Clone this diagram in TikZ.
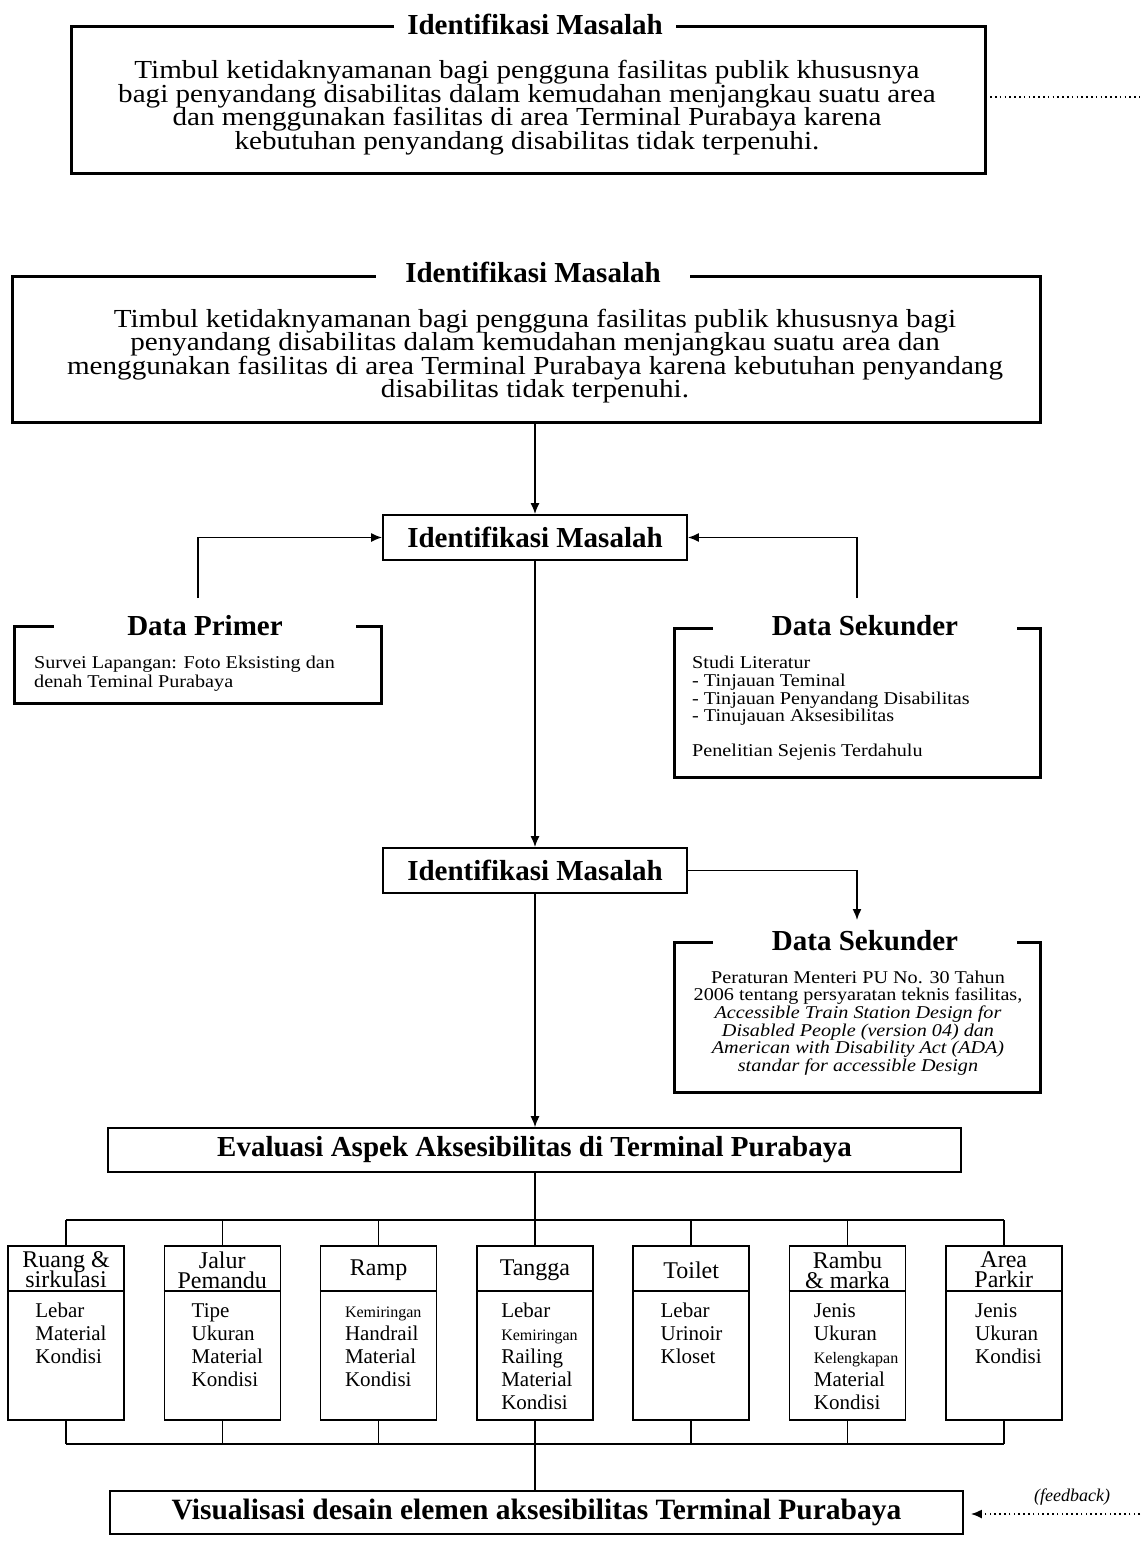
\documentclass[tikz,border=0pt]{standalone}
\usepackage{fontspec}
\setmainfont{Liberation Serif}
\newfontfamily\widefont{Liberation Serif}[FakeStretch=1.12]
\usetikzlibrary{arrows.meta}
\newcommand\firstl{\rule{0pt}{14.5pt}}
\newcommand\smallk[1]{{\fontsize{16}{16}\selectfont #1}}
\begin{document}
\lineskiplimit=-100pt
\lineskip=0pt
\begin{tikzpicture}[x=1pt,y=-1pt,
  heavy/.style={line width=3pt},
  frame/.style={inner sep=0pt, draw=none},
  conn/.style={line width=1.5pt},
  arr/.style={conn,-{Latex[length=11pt,width=9pt]}},
  dots/.style={line width=1.6pt, dash pattern=on 1.6pt off 3.2pt},
  ttl/.style={inner ysep=0pt, fill=white, font=\fontsize{29}{29}\selectfont\bfseries},
  bigbody/.style={inner sep=0pt, align=center, font=\widefont\fontsize{26}{23.5}\selectfont},
  smallbody/.style={inner sep=0pt, font=\widefont\fontsize{18}{17.6}\selectfont},
  mbox/.style={draw, line width=1.8pt, inner sep=0pt, font=\fontsize{29}{29}\selectfont\bfseries},
  sbox/.style={draw, line width=1.6pt, inner sep=0pt, minimum width=116pt, minimum height=174pt},
  hdr/.style={inner sep=0pt, align=center, font=\fontsize{24}{20}\selectfont},
  bdy/.style={inner sep=0pt, align=left, anchor=north west, font=\fontsize{21}{23}\selectfont}
]
\useasboundingbox (0,0) rectangle (1145,1544);
\fill[white] (0,0) rectangle (1145,1544);

% ---- box 1
\node[frame, minimum width=913pt, minimum height=146pt] (b1) at (528.5,100) {};
\node[ttl, inner xsep=13pt] (b1t) at (535,24) {Identifikasi Masalah};
\draw[heavy] (b1t.west |- b1.north) -- (b1.north west) -- (b1.south west) -- (b1.south east) -- (b1.north east) -- (b1t.east |- b1.north);
\node[bigbody] (b1x) at (527,107.5) {Timbul ketidaknyamanan bagi pengguna fasilitas publik khususnya\\bagi penyandang disabilitas dalam kemudahan menjangkau suatu area\\dan menggunakan fasilitas di area Terminal Purabaya karena\\kebutuhan penyandang disabilitas tidak terpenuhi.};
\coordinate (dot1) at (1140,97);
\draw[dots] ([xshift=5pt]b1.east |- dot1) -- (dot1);

% ---- box 2
\node[frame, minimum width=1027pt, minimum height=145pt] (b2) at (526.5,349.5) {};
\node[ttl, inner xsep=29.5pt] (b2t) at (533,272) {Identifikasi Masalah};
\draw[heavy] (b2t.west |- b2.north) -- (b2.north west) -- (b2.south west) -- (b2.south east) -- (b2.north east) -- (b2t.east |- b2.north);
\node[bigbody] (b2x) at (535,356) {Timbul ketidaknyamanan bagi pengguna fasilitas publik khususnya bagi\\penyandang disabilitas dalam kemudahan menjangkau suatu area dan\\menggunakan fasilitas di area Terminal Purabaya karena kebutuhan penyandang\\disabilitas tidak terpenuhi.};

% ---- identifikasi boxes
\node[mbox, minimum width=304pt, minimum height=45pt] (im1) at (535,537.5) {Identifikasi Masalah};
\node[mbox, minimum width=304pt, minimum height=45pt] (im2) at (535,870.5) {Identifikasi Masalah};

% ---- data primer
\node[frame, minimum width=366pt, minimum height=76pt] (dp) at (198,665) {};
\node[ttl, inner xsep=73.5pt] (dpt) at (205,626) {Data Primer};
\draw[heavy] (dpt.west |- dp.north) -- (dp.north west) -- (dp.south west) -- (dp.south east) -- (dp.north east) -- (dpt.east |- dp.north);
\node[smallbody, align=left, anchor=west, font=\widefont\fontsize{18}{19}\selectfont] (dpx) at (34,674) {Survei Lapangan: Foto Eksisting dan\\denah Teminal Purabaya};

% ---- data sekunder 1
\node[frame, minimum width=365pt, minimum height=148pt] (ds1) at (857.5,703) {};
\node[ttl, inner xsep=59pt] (ds1t) at (865,626) {Data Sekunder};
\draw[heavy] (ds1t.west |- ds1.north) -- (ds1.north west) -- (ds1.south west) -- (ds1.south east) -- (ds1.north east) -- (ds1t.east |- ds1.north);
\node[smallbody, align=left, anchor=west] (ds1x) at (692,708.5) {Studi Literatur\\- Tinjauan Teminal\\- Tinjauan Penyandang Disabilitas\\- Tinujauan Aksesibilitas\\[17.5pt]Penelitian Sejenis Terdahulu};

% ---- data sekunder 2
\node[frame, minimum width=365pt, minimum height=149pt] (ds2) at (857.5,1017.5) {};
\node[ttl, inner xsep=59pt] (ds2t) at (865,941) {Data Sekunder};
\draw[heavy] (ds2t.west |- ds2.north) -- (ds2.north west) -- (ds2.south west) -- (ds2.south east) -- (ds2.north east) -- (ds2t.east |- ds2.north);
\node[smallbody, align=center] (ds2x) at (858,1023) {Peraturan Menteri PU No. 30 Tahun\\2006 tentang persyaratan teknis fasilitas,\\\itshape Accessible Train Station Design for\\\itshape Disabled People (version 04) dan\\\itshape American with Disability Act (ADA)\\\itshape standar for accessible Design};

% ---- evaluasi & visualisasi
\node[mbox, line width=1.6pt, minimum width=853pt, minimum height=44pt] (ev) at (534.5,1150) {Evaluasi Aspek Aksesibilitas di Terminal Purabaya};
\node[mbox, font=\fontsize{29.5}{29.5}\selectfont\bfseries, minimum width=853pt, minimum height=43pt] (vis) at (536.5,1512.5) {Visualisasi desain elemen aksesibilitas Terminal Purabaya};

% ---- small boxes
\node[sbox] (s1) at (66,1333) {};
\node[sbox] (s2) at (222.3,1333) {};
\node[sbox] (s3) at (378.6,1333) {};
\node[sbox] (s4) at (534.9,1333) {};
\node[sbox] (s5) at (691.2,1333) {};
\node[sbox] (s6) at (847.5,1333) {};
\node[sbox] (s7) at (1003.8,1333) {};
\foreach \i in {1,...,7}{
  \draw[line width=1.6pt] ([yshift=-46pt]s\i.north west) -- ([yshift=-46pt]s\i.north east);
}
\node[hdr] (s1h) at (66,1270) {Ruang \&\\sirkulasi};
\node[hdr] (s2h) at (222.3,1270) {Jalur\\Pemandu};
\node[hdr] (s3h) at (378.6,1270) {Ramp};
\node[hdr] (s4h) at (534.9,1270) {Tangga};
\node[hdr] (s5h) at (691.2,1270) {Toilet};
\node[hdr] (s6h) at (847.5,1270) {Rambu\\\& marka};
\node[hdr] (s7h) at (1003.8,1270) {Area\\Parkir};

\node[bdy] (s1b) at ([xshift=28pt,yshift=-57.5pt]s1.north west) {\firstl Lebar\\Material\\Kondisi};
\node[bdy] (s2b) at ([xshift=28pt,yshift=-57.5pt]s2.north west) {\firstl Tipe\\Ukuran\\Material\\Kondisi};
\node[bdy] (s3b) at ([xshift=25pt,yshift=-57.5pt]s3.north west) {\firstl\smallk{Kemiringan}\\Handrail\\Material\\Kondisi};
\node[bdy] (s4b) at ([xshift=25pt,yshift=-57.5pt]s4.north west) {\firstl Lebar\\\smallk{Kemiringan}\\Railing\\Material\\Kondisi};
\node[bdy] (s5b) at ([xshift=28pt,yshift=-57.5pt]s5.north west) {\firstl Lebar\\Urinoir\\Kloset};
\node[bdy] (s6b) at ([xshift=25pt,yshift=-57.5pt]s6.north west) {\firstl Jenis\\Ukuran\\\smallk{Kelengkapan}\\Material\\Kondisi};
\node[bdy] (s7b) at ([xshift=30pt,yshift=-57.5pt]s7.north west) {\firstl Jenis\\Ukuran\\Kondisi};

% ---- connectors
\draw[arr] (b2.south -| im1.north) -- (im1.north);
\coordinate (dpc) at (198,598);
\coordinate (dsc) at (857,598);
\draw[arr] (dpc) |- (im1.west);
\draw[arr] (dsc) |- (im1.east);
\draw[arr] (im1.south) -- (im2.north);
\coordinate (ds2c) at (857,920);
\draw[arr] (im2.east) -| (ds2c);
\draw[arr] (im2.south) -- (im2.south |- ev.north);

\coordinate (busA) at (535,1220);
\draw[conn] (ev.south -| busA) -- (busA);
\draw[conn] (s1.north |- busA) -- (s7.north |- busA);
\foreach \i in {1,...,7}{
  \draw[conn] (s\i.north |- busA) -- (s\i.north);
  \draw[conn] (s\i.south) -- (s\i.south |- 0,1444);
}
\coordinate (busB) at (535,1444);
\draw[conn] (s1.south |- busB) -- (s7.south |- busB);
\draw[conn] (busB) -- (busB |- vis.north);

\coordinate (fb) at (1140,1514);
\draw[dots, -{Latex[length=11pt,width=9pt]}] (fb) -- ([xshift=7pt]vis.east |- fb);
\node[inner sep=0pt, font=\fontsize{18}{18}\selectfont\itshape] (fbt) at (1072,1497) {(feedback)};
\end{tikzpicture}
\end{document}
